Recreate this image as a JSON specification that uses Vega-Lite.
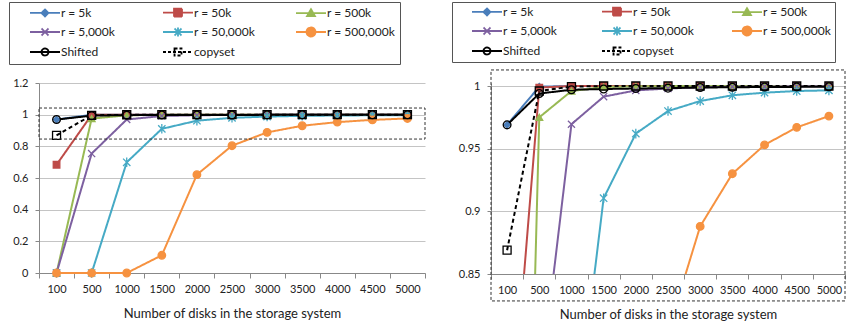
{
  "$schema": "https://vega.github.io/schema/vega-lite/v6.json",
  "padding": {"left": 8, "top": 1, "right": 1, "bottom": 2},
  "spacing": 66,
  "bounds": "flush",
  "config": {
    "font": "Lato",
    "view": {"stroke": null},
    "axis": {"labelFont": "Lato", "labelFontSize": 11, "labelColor": "#222", "titleFont": "Lato", "titleFontSize": 13, "titleFontWeight": "normal", "titleColor": "#222", "domainColor": "#888", "tickColor": "#888", "gridColor": "#c4c4c4"},
    "legend": {"labelFont": "Lato", "labelFontSize": 12, "labelColor": "#222"}
  },
  "datasets": {
    "rel": [
      {"disks": "100", "series": "r = 5k", "value": 0.969}, {"disks": "500", "series": "r = 5k", "value": 0.9995}, {"disks": "1000", "series": "r = 5k", "value": 1}, {"disks": "1500", "series": "r = 5k", "value": 1}, {"disks": "2000", "series": "r = 5k", "value": 1}, {"disks": "2500", "series": "r = 5k", "value": 1}, {"disks": "3000", "series": "r = 5k", "value": 1}, {"disks": "3500", "series": "r = 5k", "value": 1}, {"disks": "4000", "series": "r = 5k", "value": 1}, {"disks": "4500", "series": "r = 5k", "value": 1}, {"disks": "5000", "series": "r = 5k", "value": 1},
      {"disks": "100", "series": "r = 50k", "value": 0.684}, {"disks": "500", "series": "r = 50k", "value": 0.9987}, {"disks": "1000", "series": "r = 50k", "value": 1}, {"disks": "1500", "series": "r = 50k", "value": 1}, {"disks": "2000", "series": "r = 50k", "value": 1}, {"disks": "2500", "series": "r = 50k", "value": 1}, {"disks": "3000", "series": "r = 50k", "value": 1}, {"disks": "3500", "series": "r = 50k", "value": 1}, {"disks": "4000", "series": "r = 50k", "value": 1}, {"disks": "4500", "series": "r = 50k", "value": 1}, {"disks": "5000", "series": "r = 50k", "value": 1},
      {"disks": "100", "series": "r = 500k", "value": 0}, {"disks": "500", "series": "r = 500k", "value": 0.975}, {"disks": "1000", "series": "r = 500k", "value": 0.996}, {"disks": "1500", "series": "r = 500k", "value": 0.9992}, {"disks": "2000", "series": "r = 500k", "value": 0.9997}, {"disks": "2500", "series": "r = 500k", "value": 1}, {"disks": "3000", "series": "r = 500k", "value": 1}, {"disks": "3500", "series": "r = 500k", "value": 1}, {"disks": "4000", "series": "r = 500k", "value": 1}, {"disks": "4500", "series": "r = 500k", "value": 1}, {"disks": "5000", "series": "r = 500k", "value": 1},
      {"disks": "100", "series": "r = 5,000k", "value": 0}, {"disks": "500", "series": "r = 5,000k", "value": 0.754}, {"disks": "1000", "series": "r = 5,000k", "value": 0.9695}, {"disks": "1500", "series": "r = 5,000k", "value": 0.9915}, {"disks": "2000", "series": "r = 5,000k", "value": 0.9965}, {"disks": "2500", "series": "r = 5,000k", "value": 0.998}, {"disks": "3000", "series": "r = 5,000k", "value": 0.999}, {"disks": "3500", "series": "r = 5,000k", "value": 0.9994}, {"disks": "4000", "series": "r = 5,000k", "value": 0.9996}, {"disks": "4500", "series": "r = 5,000k", "value": 0.9998}, {"disks": "5000", "series": "r = 5,000k", "value": 0.9999},
      {"disks": "100", "series": "r = 50,000k", "value": 0}, {"disks": "500", "series": "r = 50,000k", "value": 0}, {"disks": "1000", "series": "r = 50,000k", "value": 0.699}, {"disks": "1500", "series": "r = 50,000k", "value": 0.9105}, {"disks": "2000", "series": "r = 50,000k", "value": 0.962}, {"disks": "2500", "series": "r = 50,000k", "value": 0.98}, {"disks": "3000", "series": "r = 50,000k", "value": 0.988}, {"disks": "3500", "series": "r = 50,000k", "value": 0.9926}, {"disks": "4000", "series": "r = 50,000k", "value": 0.9947}, {"disks": "4500", "series": "r = 50,000k", "value": 0.996}, {"disks": "5000", "series": "r = 50,000k", "value": 0.9965},
      {"disks": "100", "series": "r = 500,000k", "value": 0}, {"disks": "500", "series": "r = 500,000k", "value": 0}, {"disks": "1000", "series": "r = 500,000k", "value": 0}, {"disks": "1500", "series": "r = 500,000k", "value": 0.112}, {"disks": "2000", "series": "r = 500,000k", "value": 0.621}, {"disks": "2500", "series": "r = 500,000k", "value": 0.804}, {"disks": "3000", "series": "r = 500,000k", "value": 0.888}, {"disks": "3500", "series": "r = 500,000k", "value": 0.93}, {"disks": "4000", "series": "r = 500,000k", "value": 0.953}, {"disks": "4500", "series": "r = 500,000k", "value": 0.967}, {"disks": "5000", "series": "r = 500,000k", "value": 0.976},
      {"disks": "100", "series": "Shifted", "value": 0.969}, {"disks": "500", "series": "Shifted", "value": 0.994}, {"disks": "1000", "series": "Shifted", "value": 0.997}, {"disks": "1500", "series": "Shifted", "value": 0.9976}, {"disks": "2000", "series": "Shifted", "value": 0.998}, {"disks": "2500", "series": "Shifted", "value": 0.9983}, {"disks": "3000", "series": "Shifted", "value": 0.9988}, {"disks": "3500", "series": "Shifted", "value": 0.999}, {"disks": "4000", "series": "Shifted", "value": 0.9992}, {"disks": "4500", "series": "Shifted", "value": 0.9993}, {"disks": "5000", "series": "Shifted", "value": 0.9994},
      {"disks": "100", "series": "copyset", "value": 0.869}, {"disks": "500", "series": "copyset", "value": 0.996}, {"disks": "1000", "series": "copyset", "value": 0.9995}, {"disks": "1500", "series": "copyset", "value": 1}, {"disks": "2000", "series": "copyset", "value": 1}, {"disks": "2500", "series": "copyset", "value": 1}, {"disks": "3000", "series": "copyset", "value": 1}, {"disks": "3500", "series": "copyset", "value": 1}, {"disks": "4000", "series": "copyset", "value": 1}, {"disks": "4500", "series": "copyset", "value": 1}, {"disks": "5000", "series": "copyset", "value": 1}
    ],
    "zoomBox": [{"lo": 0.846, "hi": 1.042}],
    "panelBox": [{"lo": 0.8285, "hi": 1.0128}]
  },
  "resolve": {
    "scale": {"x": "independent", "y": "independent", "stroke": "independent", "fill": "independent", "shape": "independent", "size": "independent", "strokeDash": "independent"},
    "legend": {"shape": "independent"}
  },
  "hconcat": [
    {
      "width": 386,
      "height": 190,
      "resolve": {"scale": {"shape": "independent", "stroke": "independent", "fill": "independent", "strokeDash": "independent", "size": "independent"}},
      "layer": [
        {
          "data": {"name": "rel"},
          "mark": {"type": "line", "strokeWidth": 2},
          "encoding": {
            "x": {"field": "disks", "type": "ordinal", "sort": ["100", "500", "1000", "1500", "2000", "2500", "3000", "3500", "4000", "4500", "5000"], "scale": {"type": "band", "paddingInner": 0, "paddingOuter": 0}, "axis": {"title": "Number of disks in the storage system", "labelAngle": 0, "tickBand": "extent", "grid": false, "tickSize": 5, "labelPadding": 5, "titlePadding": 13}},
            "y": {"field": "value", "type": "quantitative", "scale": {"domain": [0, 1.2]}, "axis": {"title": null, "values": [0, 0.2, 0.4, 0.6, 0.8, 1, 1.2], "format": "~g", "tickSize": 4, "labelPadding": 7}},
            "stroke": {"field": "series", "type": "nominal", "scale": {"domain": ["r = 5k", "r = 50k", "r = 500k", "r = 5,000k", "r = 50,000k", "r = 500,000k", "Shifted", "copyset"], "range": ["#4A7EBB", "#BE4B48", "#98B954", "#7D60A0", "#46AAC5", "#F69240", "#000000", "#000000"]}, "legend": null},
            "strokeDash": {"field": "series", "type": "nominal", "scale": {"domain": ["r = 5k", "r = 50k", "r = 500k", "r = 5,000k", "r = 50,000k", "r = 500,000k", "Shifted", "copyset"], "range": [[1, 0], [1, 0], [1, 0], [1, 0], [1, 0], [1, 0], [1, 0], [4, 3]]}, "legend": null}
          }
        },
        {
          "data": {"name": "rel"},
          "mark": {"type": "point", "opacity": 1, "strokeWidth": 1.3},
          "encoding": {
            "x": {"field": "disks", "type": "ordinal", "sort": ["100", "500", "1000", "1500", "2000", "2500", "3000", "3500", "4000", "4500", "5000"]},
            "y": {"field": "value", "type": "quantitative", "scale": {"domain": [0, 1.2]}, "axis": {"title": null, "values": [0, 0.2, 0.4, 0.6, 0.8, 1, 1.2], "format": "~g", "tickSize": 4, "labelPadding": 7}},
            "stroke": {"field": "series", "type": "nominal", "scale": {"domain": ["r = 5k", "r = 50k", "r = 500k", "r = 5,000k", "r = 50,000k", "r = 500,000k", "Shifted", "copyset"], "range": ["#4A7EBB", "#BE4B48", "#98B954", "#7D60A0", "#46AAC5", "#F69240", "#000000", "#000000"]}, "legend": null},
            "fill": {"field": "series", "type": "nominal", "scale": {"domain": ["r = 5k", "r = 50k", "r = 500k", "r = 5,000k", "r = 50,000k", "r = 500,000k", "Shifted", "copyset"], "range": ["#4A7EBB", "#BE4B48", "#98B954", "#7D60A0", "#46AAC5", "#F69240", "transparent", "transparent"]}, "legend": null},
            "shape": {"field": "series", "type": "nominal", "scale": {"domain": ["r = 5k", "r = 50k", "r = 500k", "r = 5,000k", "r = 50,000k", "r = 500,000k", "Shifted", "copyset"], "range": ["diamond", "square", "triangle-up", "M-1,-1L1,1M-1,1L1,-1", "M-1,-1L1,1M-1,1L1,-1M0,-1.3V1.3", "circle", "circle", "square"]}, "legend": null},
            "size": {"field": "series", "type": "nominal", "scale": {"domain": ["r = 5k", "r = 50k", "r = 500k", "r = 5,000k", "r = 50,000k", "r = 500,000k", "Shifted", "copyset"], "range": [40, 64, 50, 40, 45, 70, 45, 55]}, "legend": null}
          }
        },
        {
          "data": {"name": "zoomBox"},
          "mark": {"type": "rect", "fill": null, "stroke": "#333", "strokeDash": [3, 2], "strokeWidth": 1},
          "encoding": {
            "y": {"field": "lo", "type": "quantitative", "scale": {"domain": [0, 1.2]}, "axis": {"title": null, "values": [0, 0.2, 0.4, 0.6, 0.8, 1, 1.2], "format": "~g", "tickSize": 4, "labelPadding": 7}},
            "y2": {"field": "hi"}
          }
        },
        {
          "data": {"name": "rel"},
          "transform": [{"filter": "datum.value > 2"}],
          "mark": {"type": "point", "opacity": 1, "strokeWidth": 1.8},
          "encoding": {
            "x": {"field": "disks", "type": "ordinal", "sort": ["100", "500", "1000", "1500", "2000", "2500", "3000", "3500", "4000", "4500", "5000"]},
            "y": {"field": "value", "type": "quantitative", "scale": {"domain": [0, 1.2]}, "axis": {"title": null, "values": [0, 0.2, 0.4, 0.6, 0.8, 1, 1.2], "format": "~g", "tickSize": 4, "labelPadding": 7}},
            "shape": {"field": "series", "type": "nominal", "scale": {"domain": ["r = 5k", "r = 50k", "r = 500k", "r = 5,000k", "r = 50,000k", "r = 500,000k", "Shifted", "copyset"], "range": ["M2.2,0H8.2M5.2,-0.7L5.9,0L5.2,0.7L4.5,0Z", "M2.2,0H8.2M4.4,-0.8H6V0.8H4.4Z", "M2.2,0H8.2M5.2,-0.8L6,0.6H4.4Z", "M2.2,0H8.2M4.5,-0.7L5.9,0.7M4.5,0.7L5.9,-0.7", "M2.2,0H8.2M4.5,-0.7L5.9,0.7M4.5,0.7L5.9,-0.7M5.2,-0.9V0.9", "M2.2,0H8.2M6.1,0A0.9,0.9 0 1,1 4.3,0A0.9,0.9 0 1,1 6.1,0Z", "M2.2,0H8.2M5.9,0A0.7,0.7 0 1,1 4.5,0A0.7,0.7 0 1,1 5.9,0Z", "M2.2,0H8.2M4.5,-0.7H5.9V0.7H4.5Z"]},
              "legend": {"orient": "none", "legendX": -30, "legendY": -81, "direction": "horizontal", "columns": 3, "title": null, "strokeColor": "#555", "padding": 4, "columnPadding": 16, "rowPadding": 2, "gridAlign": "all", "symbolSize": 100, "labelOffset": 36, "symbolStrokeWidth": 1.8, "symbolOpacity": 1, "labelLimit": 0}},
            "stroke": {"field": "series", "type": "nominal", "scale": {"domain": ["r = 5k", "r = 50k", "r = 500k", "r = 5,000k", "r = 50,000k", "r = 500,000k", "Shifted", "copyset"], "range": ["#4A7EBB", "#BE4B48", "#98B954", "#7D60A0", "#46AAC5", "#F69240", "#000000", "#000000"]}},
            "fill": {"field": "series", "type": "nominal", "scale": {"domain": ["r = 5k", "r = 50k", "r = 500k", "r = 5,000k", "r = 50,000k", "r = 500,000k", "Shifted", "copyset"], "range": ["#4A7EBB", "#BE4B48", "#98B954", "#7D60A0", "#46AAC5", "#F69240", "transparent", "transparent"]}},
            "strokeDash": {"field": "series", "type": "nominal", "scale": {"domain": ["r = 5k", "r = 50k", "r = 500k", "r = 5,000k", "r = 50,000k", "r = 500,000k", "Shifted", "copyset"], "range": [[1, 0], [1, 0], [1, 0], [1, 0], [1, 0], [1, 0], [1, 0], [3, 2]]}}
          }
        }
      ]
    },
    {
      "width": 354,
      "height": 191,
      "resolve": {"scale": {"shape": "independent", "stroke": "independent", "fill": "independent", "strokeDash": "independent", "size": "independent"}},
      "layer": [
        {
          "data": {"name": "rel"},
          "mark": {"type": "line", "strokeWidth": 2, "clip": true},
          "encoding": {
            "x": {"field": "disks", "type": "ordinal", "sort": ["100", "500", "1000", "1500", "2000", "2500", "3000", "3500", "4000", "4500", "5000"], "scale": {"type": "band", "paddingInner": 0, "paddingOuter": 0}, "axis": {"title": "Number of disks in the storage system", "labelAngle": 0, "tickBand": "extent", "grid": false, "tickSize": 5, "labelPadding": 5, "titlePadding": 13}},
            "y": {"field": "value", "type": "quantitative", "scale": {"domain": [0.85, 1.0024]}, "axis": {"title": null, "values": [0.85, 0.9, 0.95, 1], "format": "~g", "tickSize": 4, "labelPadding": 7}},
            "stroke": {"field": "series", "type": "nominal", "scale": {"domain": ["r = 5k", "r = 50k", "r = 500k", "r = 5,000k", "r = 50,000k", "r = 500,000k", "Shifted", "copyset"], "range": ["#4A7EBB", "#BE4B48", "#98B954", "#7D60A0", "#46AAC5", "#F69240", "#000000", "#000000"]}, "legend": null},
            "strokeDash": {"field": "series", "type": "nominal", "scale": {"domain": ["r = 5k", "r = 50k", "r = 500k", "r = 5,000k", "r = 50,000k", "r = 500,000k", "Shifted", "copyset"], "range": [[1, 0], [1, 0], [1, 0], [1, 0], [1, 0], [1, 0], [1, 0], [4, 3]]}, "legend": null}
          }
        },
        {
          "data": {"name": "rel"},
          "transform": [{"filter": "datum.value >= 0.85"}],
          "mark": {"type": "point", "opacity": 1, "strokeWidth": 1.3},
          "encoding": {
            "x": {"field": "disks", "type": "ordinal", "sort": ["100", "500", "1000", "1500", "2000", "2500", "3000", "3500", "4000", "4500", "5000"]},
            "y": {"field": "value", "type": "quantitative", "scale": {"domain": [0.85, 1.0024]}, "axis": {"title": null, "values": [0.85, 0.9, 0.95, 1], "format": "~g", "tickSize": 4, "labelPadding": 7}},
            "stroke": {"field": "series", "type": "nominal", "scale": {"domain": ["r = 5k", "r = 50k", "r = 500k", "r = 5,000k", "r = 50,000k", "r = 500,000k", "Shifted", "copyset"], "range": ["#4A7EBB", "#BE4B48", "#98B954", "#7D60A0", "#46AAC5", "#F69240", "#000000", "#000000"]}, "legend": null},
            "fill": {"field": "series", "type": "nominal", "scale": {"domain": ["r = 5k", "r = 50k", "r = 500k", "r = 5,000k", "r = 50,000k", "r = 500,000k", "Shifted", "copyset"], "range": ["#4A7EBB", "#BE4B48", "#98B954", "#7D60A0", "#46AAC5", "#F69240", "transparent", "transparent"]}, "legend": null},
            "shape": {"field": "series", "type": "nominal", "scale": {"domain": ["r = 5k", "r = 50k", "r = 500k", "r = 5,000k", "r = 50,000k", "r = 500,000k", "Shifted", "copyset"], "range": ["diamond", "square", "triangle-up", "M-1,-1L1,1M-1,1L1,-1", "M-1,-1L1,1M-1,1L1,-1M0,-1.3V1.3", "circle", "circle", "square"]}, "legend": null},
            "size": {"field": "series", "type": "nominal", "scale": {"domain": ["r = 5k", "r = 50k", "r = 500k", "r = 5,000k", "r = 50,000k", "r = 500,000k", "Shifted", "copyset"], "range": [40, 64, 50, 40, 45, 70, 45, 55]}, "legend": null}
          }
        },
        {
          "data": {"name": "panelBox"},
          "mark": {"type": "rect", "fill": null, "stroke": "#333", "strokeDash": [3, 2], "strokeWidth": 1, "clip": false},
          "encoding": {
            "y": {"field": "lo", "type": "quantitative", "scale": {"domain": [0.85, 1.0024]}, "axis": {"title": null, "values": [0.85, 0.9, 0.95, 1], "format": "~g", "tickSize": 4, "labelPadding": 7}},
            "y2": {"field": "hi"}
          }
        },
        {
          "data": {"name": "rel"},
          "transform": [{"filter": "datum.value > 2"}],
          "mark": {"type": "point", "opacity": 1, "strokeWidth": 1.8},
          "encoding": {
            "x": {"field": "disks", "type": "ordinal", "sort": ["100", "500", "1000", "1500", "2000", "2500", "3000", "3500", "4000", "4500", "5000"]},
            "y": {"field": "value", "type": "quantitative", "scale": {"domain": [0.85, 1.0024]}, "axis": {"title": null, "values": [0.85, 0.9, 0.95, 1], "format": "~g", "tickSize": 4, "labelPadding": 7}},
            "shape": {"field": "series", "type": "nominal", "scale": {"domain": ["r = 5k", "r = 50k", "r = 500k", "r = 5,000k", "r = 50,000k", "r = 500,000k", "Shifted", "copyset"], "range": ["M2.2,0H8.2M5.2,-0.7L5.9,0L5.2,0.7L4.5,0Z", "M2.2,0H8.2M4.4,-0.8H6V0.8H4.4Z", "M2.2,0H8.2M5.2,-0.8L6,0.6H4.4Z", "M2.2,0H8.2M4.5,-0.7L5.9,0.7M4.5,0.7L5.9,-0.7", "M2.2,0H8.2M4.5,-0.7L5.9,0.7M4.5,0.7L5.9,-0.7M5.2,-0.9V0.9", "M2.2,0H8.2M6.1,0A0.9,0.9 0 1,1 4.3,0A0.9,0.9 0 1,1 6.1,0Z", "M2.2,0H8.2M5.9,0A0.7,0.7 0 1,1 4.5,0A0.7,0.7 0 1,1 5.9,0Z", "M2.2,0H8.2M4.5,-0.7H5.9V0.7H4.5Z"]},
              "legend": {"orient": "none", "legendX": -39, "legendY": -81, "direction": "horizontal", "columns": 3, "title": null, "strokeColor": "#555", "padding": 3, "columnPadding": 13, "rowPadding": 2, "gridAlign": "all", "symbolSize": 100, "labelOffset": 36, "symbolStrokeWidth": 1.8, "symbolOpacity": 1, "labelLimit": 0}},
            "stroke": {"field": "series", "type": "nominal", "scale": {"domain": ["r = 5k", "r = 50k", "r = 500k", "r = 5,000k", "r = 50,000k", "r = 500,000k", "Shifted", "copyset"], "range": ["#4A7EBB", "#BE4B48", "#98B954", "#7D60A0", "#46AAC5", "#F69240", "#000000", "#000000"]}},
            "fill": {"field": "series", "type": "nominal", "scale": {"domain": ["r = 5k", "r = 50k", "r = 500k", "r = 5,000k", "r = 50,000k", "r = 500,000k", "Shifted", "copyset"], "range": ["#4A7EBB", "#BE4B48", "#98B954", "#7D60A0", "#46AAC5", "#F69240", "transparent", "transparent"]}},
            "strokeDash": {"field": "series", "type": "nominal", "scale": {"domain": ["r = 5k", "r = 50k", "r = 500k", "r = 5,000k", "r = 50,000k", "r = 500,000k", "Shifted", "copyset"], "range": [[1, 0], [1, 0], [1, 0], [1, 0], [1, 0], [1, 0], [1, 0], [3, 2]]}}
          }
        }
      ]
    }
  ]
}
